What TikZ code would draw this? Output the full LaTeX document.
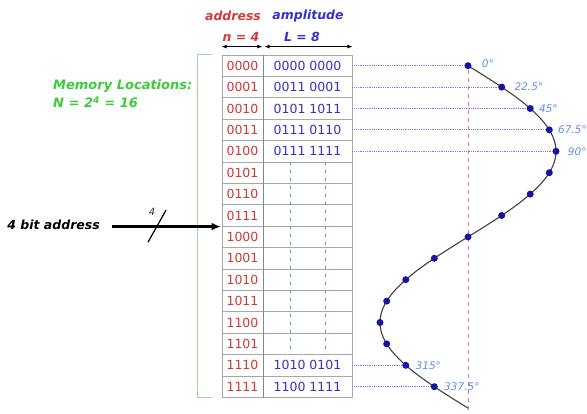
\documentclass[tikz,border=0pt]{standalone}
\usepackage{fontspec}
\setmainfont{DejaVu Sans}
\usetikzlibrary{arrows.meta}
\definecolor{addrred}{HTML}{D03A3A}
\definecolor{ampblue}{HTML}{3434C8}
\definecolor{grn}{HTML}{3CCB3C}
\definecolor{lgrn}{HTML}{9ADB9A}
\definecolor{angblue}{HTML}{5F8CF0}
\definecolor{ptblue}{HTML}{1414A0}
\definecolor{gridgray}{HTML}{A8A8A8}
\definecolor{mag}{HTML}{D070D0}
\definecolor{dotblue}{HTML}{7A7AF0}
\tikzset{
  addrcell/.style={draw=gridgray, fill=white, line width=0.8pt, minimum width=41pt, minimum height=21.4pt, inner sep=0pt, text=addrred, font=\fontsize{12.5}{14}\selectfont},
  ampcell/.style={draw=gridgray, fill=white, line width=0.8pt, minimum width=89pt, minimum height=21.4pt, inner sep=0pt, text=ampblue, font=\fontsize{12.5}{14}\selectfont},
  head/.style={inner sep=0pt, font=\fontsize{12.5}{14}\selectfont\bfseries\itshape},
  dimarrow/.style={{Latex[length=5pt,width=4pt]}-{Latex[length=5pt,width=4pt]}, line width=0.8pt},
  ptdot/.style={circle, fill=ptblue, inner sep=0pt, minimum size=7pt},
  anglab/.style={text=angblue, font=\fontsize{10.5}{12}\selectfont\itshape, inner sep=0pt, anchor=west},
  guide/.style={dotblue, densely dotted, line width=0.8pt},
  contline/.style={angblue, dash pattern=on 3pt off 5pt, line width=0.6pt}
}
\begin{document}
\begin{tikzpicture}[x=1pt,y=-1pt]
\useasboundingbox (0,0) rectangle (587,414);
% table
\foreach \a/\m [count=\i from 0] in {0000/0000 0000,0001/0011 0001,0010/0101 1011,0011/0111 0110,0100/0111 1111,0101/{},0110/{},0111/{},1000/{},1001/{},1010/{},1011/{},1100/{},1101/{},1110/1010 0101,1111/1100 1111}{
  \node[addrcell] (a\i) at (242.5,{55+21.4*(\i+0.5)}) {\a};
  \node[ampcell] (m\i) at (307.5,{55+21.4*(\i+0.5)}) {\m};
}
\draw[gridgray!80!black, line width=1.3pt] (a0.north east) -- (a15.south east);
% continuation marks
\draw[contline] ([xshift=-17pt]m5.north) -- ([xshift=-17pt]m13.south);
\draw[contline] ([xshift=17.5pt]m5.north) -- ([xshift=17.5pt]m13.south);
% headings
\node[head, text=addrred] (addr) at (233,16) {address};
\node[head, text=ampblue] (ampl) at (308,16) {amplitude};
\node[head, text=addrred] (nn) at (241,37) {n = 4};
\node[head, text=ampblue] (ll) at (302,37) {L = 8};
\draw[dimarrow] ([yshift=8pt]a0.north west) -- ([yshift=8pt,xshift=-1pt]a0.north east);
\draw[dimarrow] ([yshift=8pt,xshift=2pt]m0.north west) -- ([yshift=8pt]m0.north east);
% memory locations bracket
\coordinate (bt) at (212,55);
\coordinate (bb) at (212,397.4);
\draw[lgrn, line width=1pt] (bt) -- (197,55) -- (197,397.4) -- (bb);
\node[head, text=grn, anchor=west, font=\fontsize{13}{15}\selectfont\bfseries\itshape] (mem) at (53,86) {Memory Locations:};
\node[head, text=grn, anchor=west, font=\fontsize{13}{15}\selectfont\bfseries\itshape] (nloc) at (53,102) {N = 2\textsuperscript{4} = 16};
% address input
\node[head, text=black, anchor=east] (lab) at (100,225) {4 bit address};
\coordinate (ain) at (a7.south west);
\draw[line width=2.4pt, -{Latex[length=9pt,width=8pt]}] ([xshift=12pt]ain -| lab.east) -- ([xshift=-1pt]ain);
\coordinate (sl) at (157,226.2);
\draw[line width=1.2pt] ([shift={(-9,16)}]sl) -- ([shift={(9,-16)}]sl);
\node[font=\fontsize{10}{12}\selectfont\itshape, text=black!80, inner sep=0pt] (four) at (152,212) {4};
% sine
\draw[mag, dash pattern=on 4pt off 4pt, line width=0.8pt] (468,62) -- (468,414);
\draw[black!75, line width=1.1pt] plot[domain=0:360, samples=97, smooth] ({468+88*sin(\x)}, {65.7+21.4*\x/22.5});
\foreach \k in {0,...,15}{
  \node[ptdot] (p\k) at ({468+88*sin(\k*22.5)}, {65.7+21.4*\k}) {};
}
\foreach \k in {0,1,2,3,4,14,15}{
  \draw[guide] (m\k.east) -- (p\k);
}
\node[anglab] at ([xshift=10pt,yshift=2pt]p0.east) {0°};
\node[anglab] at ([xshift=9pt]p1.east) {22.5°};
\node[anglab] at ([xshift=5pt]p2.east) {45°};
\node[anglab] at ([xshift=5pt]p3.east) {67.5°};
\node[anglab] at ([xshift=8pt]p4.east) {90°};
\node[anglab] at ([xshift=6pt]p14.east) {315°};
\node[anglab] at ([xshift=6pt]p15.east) {337.5°};
\end{tikzpicture}
\end{document}
